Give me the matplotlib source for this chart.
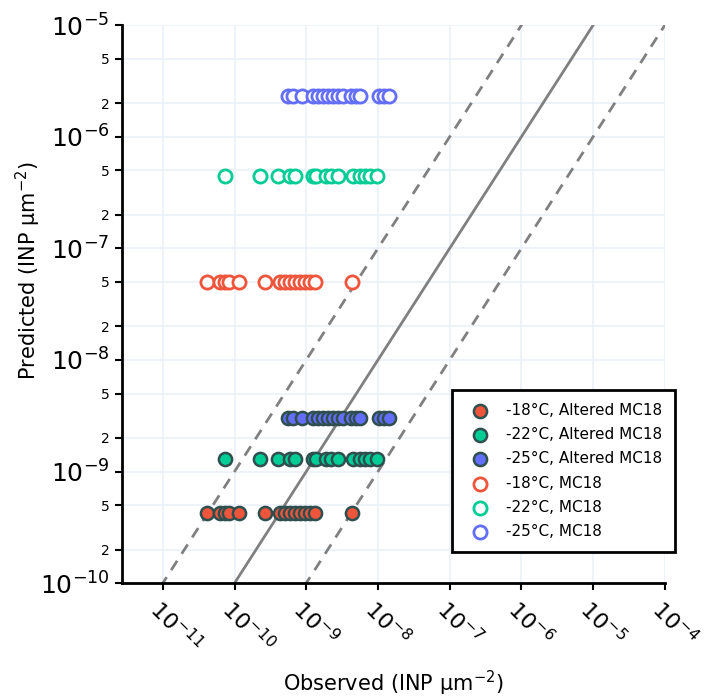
import matplotlib
matplotlib.use("Agg")
import matplotlib.pyplot as plt
import numpy as np

obs_18 = [-10.39, -10.20, -10.14, -10.08, -9.94, -9.57, -9.36, -9.29, -9.23,
          -9.16, -9.09, -9.02, -8.95, -8.88, -8.36]
obs_22 = [-10.14, -9.64, -9.40, -9.23, -9.16, -8.91, -8.86, -8.72, -8.65,
          -8.56, -8.35, -8.25, -8.18, -8.11, -8.01]
obs_25 = [-9.26, -9.19, -9.06, -8.91, -8.84, -8.77, -8.70, -8.63, -8.56,
          -8.49, -8.37, -8.31, -8.25, -7.99, -7.92, -7.84]

# predicted values (single value per temperature)
pred_alt = {"-18": 4.24e-10, "-22": 1.29e-9, "-25": 3.01e-9}
pred_mc18 = {"-18": 4.98e-8, "-22": 4.43e-7, "-25": 2.31e-6}

colors = {"-18": "#EF553B", "-22": "#00CC96", "-25": "#636EFA"}
obs = {"-18": obs_18, "-22": obs_22, "-25": obs_25}

fig = plt.figure(figsize=(7.05, 7.0), dpi=100)
ax = fig.add_axes([0.173, 0.167, 0.770, 0.797])

# 1:1 and factor 10 lines
xl = np.array([1e-13, 1e-3])
ax.plot(xl, xl, color="#808080", lw=2, zorder=1)
ax.plot(xl, xl * 10, color="#808080", lw=2, ls=(0, (4, 3)), zorder=1)
ax.plot(xl, xl / 10, color="#808080", lw=2, ls=(0, (4, 3)), zorder=1)

for t in ["-18", "-22", "-25"]:
    x = 10 ** np.array(obs[t])
    ax.scatter(x, np.full(len(x), pred_alt[t]), s=90, c=colors[t],
               edgecolors="#2F4F4F", linewidths=1.8, zorder=3,
               label=f"{t}°C, Altered MC18")
for t in ["-18", "-22", "-25"]:
    x = 10 ** np.array(obs[t])
    ax.scatter(x, np.full(len(x), pred_mc18[t]), s=90, facecolors="white",
               edgecolors=colors[t], linewidths=2, zorder=3,
               label=f"{t}°C, MC18")

ax.set_xscale("log")
ax.set_yscale("log")
ax.set_xlim(10 ** -11.57, 1e-4)
ax.set_ylim(1e-10, 1e-5)

# x ticks
xt = [10.0 ** e for e in range(-11, -3)]
ax.set_xticks(xt)
ax.set_xticklabels([f"$10^{{{e}}}$" for e in range(-11, -3)], fontsize=16,
                   rotation=-45, ha="left", va="top", rotation_mode="anchor")
ax.xaxis.set_minor_locator(matplotlib.ticker.NullLocator())

# y ticks: decades plus 2 and 5
yt, ylab = [], []
for e in range(-10, -5):
    yt += [10.0 ** e, 2 * 10.0 ** e, 5 * 10.0 ** e]
    ylab += [f"$10^{{{e}}}$", "2", "5"]
yt.append(1e-5)
ylab.append("$10^{-5}$")
ax.set_yticks(yt)
ax.set_yticklabels(ylab)
ax.yaxis.set_minor_locator(matplotlib.ticker.NullLocator())
for lab in ax.get_yticklabels():
    lab.set_fontsize(18 if lab.get_text().startswith("$") else 10)

ax.tick_params(axis="both", direction="out", length=5, width=1.5,
               color="black", pad=4)
ax.tick_params(axis="x", pad=4)

ax.grid(True, color="#EBF0F8", lw=1.2, zorder=0)
ax.set_axisbelow(True)
for side in ["top", "right"]:
    ax.spines[side].set_visible(False)
for side in ["left", "bottom"]:
    ax.spines[side].set_linewidth(2)
    ax.spines[side].set_color("black")

ax.set_xlabel("Observed (INP µm$^{-2}$)", fontsize=15, va="center")
ax.xaxis.set_label_coords(0.499, -0.179)
ax.set_ylabel("Predicted (INP µm$^{-2}$)", fontsize=15, va="center")
ax.yaxis.set_label_coords(-0.173, 0.56)

leg = ax.legend(loc="upper left", bbox_to_anchor=(0.608, 0.346), fontsize=11,
                frameon=True, fancybox=False, edgecolor="black", framealpha=1,
                borderpad=0.85, labelspacing=0.6, handletextpad=0.7,
                borderaxespad=0)
leg.get_frame().set_linewidth(2)

fig.savefig("out.png", dpi=100, facecolor="white")
